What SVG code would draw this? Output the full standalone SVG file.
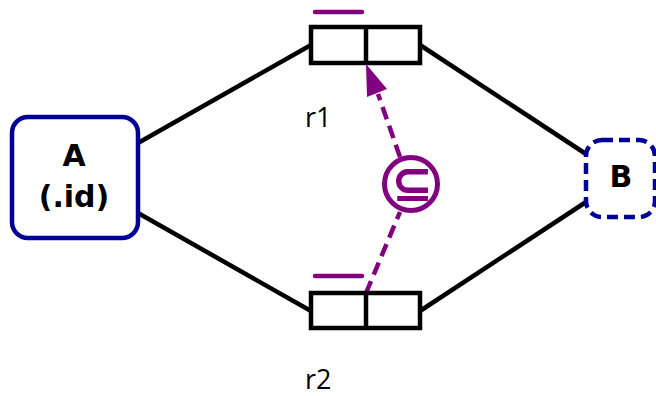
<svg xmlns="http://www.w3.org/2000/svg" width="656" height="396" viewBox="0 0 656 396">
<style>
.edge{stroke:#000;stroke-width:4.5;fill:none}
.rel{fill:#fff;stroke:#000;stroke-width:4.5}
.bar{stroke:#800080;stroke-width:4.5;stroke-linecap:round}
.dep{stroke:#800080;stroke-width:4.5;stroke-dasharray:13 7;fill:none}
.lbl{font-family:"DejaVu Sans",sans-serif;font-weight:bold;font-size:30px;fill:#000;text-anchor:middle}
.rlbl{font-family:"Open Sans","DejaVu Sans",sans-serif;font-size:27px;fill:#000}
</style>
<rect width="656" height="396" fill="#fff"/>
<g id="connectors">
<line class="edge" x1="138" y1="143" x2="311" y2="45"/>
<line class="edge" x1="138" y1="213" x2="311" y2="311"/>
<line class="edge" x1="420" y1="45" x2="586" y2="154"/>
<line class="edge" x1="420" y1="311" x2="586" y2="202"/>
<line class="dep" x1="366" y1="293" x2="400" y2="212"/>
<line class="dep" x1="400" y1="157" x2="378" y2="94"/>
<polygon points="366,64 387,89 367,97" fill="#800080"/>
</g>
<g id="A">
<rect x="12" y="117" width="126" height="121" rx="16" fill="#fff" stroke="#000099" stroke-width="4.5"/>
<text class="lbl" x="74" y="166">A</text>
<text class="lbl" x="74" y="207">(.id)</text>
</g>
<g id="B">
<rect x="586" y="140" width="69" height="77" rx="16" fill="#fff" stroke="#000099" stroke-width="4.5" stroke-dasharray="11 6"/>
<text class="lbl" x="621" y="187">B</text>
</g>
<g id="r1">
<rect class="rel" x="311" y="27" width="109" height="36"/>
<line x1="366" y1="27" x2="366" y2="63" stroke="#000" stroke-width="4.5"/>
<line class="bar" x1="315" y1="12" x2="362" y2="12"/>
<text class="rlbl" x="305" y="127">r1</text>
</g>
<g id="r2">
<rect class="rel" x="311" y="293" width="109" height="35"/>
<line x1="366" y1="293" x2="366" y2="328" stroke="#000" stroke-width="4.5"/>
<line class="bar" x1="315" y1="276" x2="362" y2="276"/>
<text class="rlbl" x="305" y="389">r2</text>
</g>
<g id="subset">
<circle cx="411" cy="184" r="26.5" fill="#fff" stroke="#800080" stroke-width="5"/>
<text x="412" y="201" font-family="DejaVu Sans,sans-serif" font-weight="bold" font-size="50" fill="#800080" text-anchor="middle">⊆</text>
</g>
</svg>
